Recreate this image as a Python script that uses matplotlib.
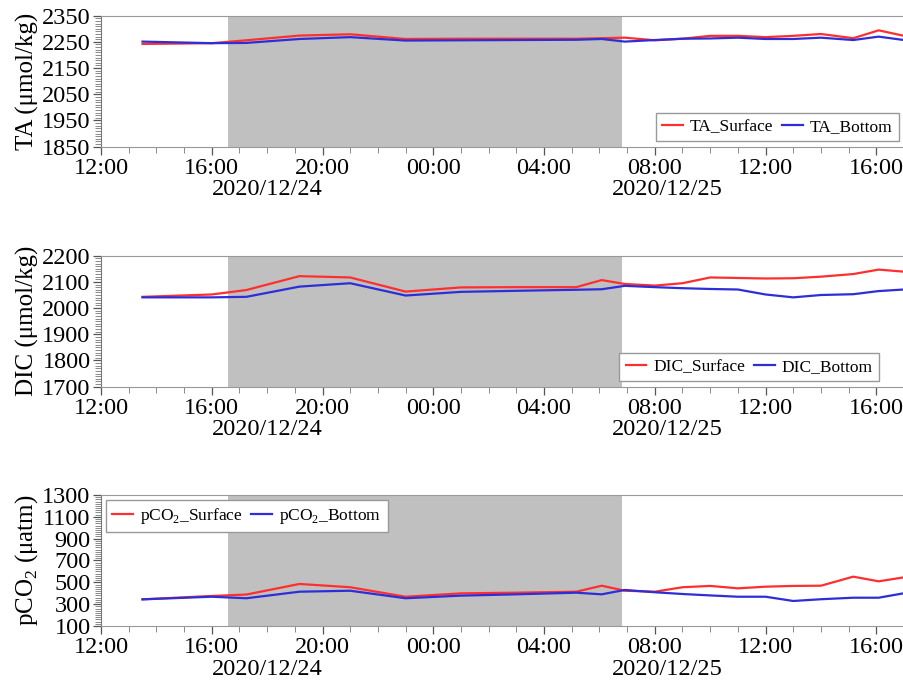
import numpy as np
import pandas as pd
import matplotlib
matplotlib.use("Agg")
import matplotlib.pyplot as plt
import matplotlib.dates as mdates
from matplotlib.ticker import FixedLocator

plt.rcParams['font.family'] = ['Liberation Serif', 'DejaVu Serif']
plt.rcParams['mathtext.fontset'] = 'custom'
plt.rcParams['mathtext.rm'] = 'Liberation Serif'

# sampling times
times = pd.to_datetime([
    "2020-12-24 13:30", "2020-12-24 16:00", "2020-12-24 17:15", "2020-12-24 19:10",
    "2020-12-24 21:00", "2020-12-24 23:00", "2020-12-25 01:00", "2020-12-25 03:00",
    "2020-12-25 05:10", "2020-12-25 06:05", "2020-12-25 06:55", "2020-12-25 08:00",
    "2020-12-25 09:00", "2020-12-25 10:00", "2020-12-25 11:00", "2020-12-25 12:00",
    "2020-12-25 13:00", "2020-12-25 14:00", "2020-12-25 15:10", "2020-12-25 16:05",
    "2020-12-25 17:00",
])

ta_surface = [2242, 2245, 2256, 2274, 2279, 2261, 2262, 2262, 2262, 2264, 2266,
              2256, 2262, 2273, 2273, 2268, 2273, 2280, 2264, 2294, 2273]
ta_bottom = [2251, 2245, 2246, 2261, 2268, 2255, 2256, 2257, 2258, 2261, 2251,
             2257, 2262, 2263, 2266, 2261, 2261, 2266, 2257, 2270, 2257]

dic_surface = [2043, 2052, 2069, 2122, 2117, 2063, 2079, 2080, 2080, 2107, 2092,
               2086, 2095, 2117, 2115, 2113, 2114, 2120, 2130, 2147, 2139]
dic_bottom = [2041, 2041, 2043, 2082, 2095, 2048, 2062, 2066, 2070, 2072, 2085,
              2080, 2076, 2073, 2071, 2052, 2041, 2050, 2053, 2065, 2071]

pco2_surface = [344, 375, 388, 485, 455, 368, 399, 405, 414, 469, 423,
                414, 455, 467, 445, 460, 467, 469, 552, 509, 546]
pco2_bottom = [344, 368, 354, 414, 423, 354, 378, 390, 405, 390, 430,
               409, 393, 380, 368, 368, 329, 345, 359, 359, 400]

ta_ticks = [1850, 1950, 2050, 2150, 2250, 2350]
dic_ticks = [1700, 1800, 1900, 2000, 2100, 2200]
pco2_ticks = [100, 300, 500, 700, 900, 1100, 1300]

night_start = pd.Timestamp("2020-12-24 16:35")
night_end = pd.Timestamp("2020-12-25 06:48")
x_start = pd.Timestamp("2020-12-24 12:00")
x_end = pd.Timestamp("2020-12-25 17:00")

date_labels = ["2020/12/24", "2020/12/25"]
date_pos = pd.to_datetime(["2020-12-24 18:00", "2020-12-25 08:28"])

panels = [
    dict(s=ta_surface, b=ta_bottom, ticks=ta_ticks, minor=10,
         ylabel="TA (μmol/kg)", names=("TA_Surface", "TA_Bottom"),
         loc="lower right", anchor=(1.0, 0.0)),
    dict(s=dic_surface, b=dic_bottom, ticks=dic_ticks, minor=10,
         ylabel="DIC (μmol/kg)", names=("DIC_Surface", "DIC_Bottom"),
         loc="lower right", anchor=(0.975, 0.0)),
    dict(s=pco2_surface, b=pco2_bottom, ticks=pco2_ticks, minor=20,
         ylabel="pCO$_2$ (μatm)", names=("pCO$_2$_Surface", "pCO$_2$_Bottom"),
         loc="upper left", anchor=(0.0, 1.0)),
]

fig = plt.figure(figsize=(9.04, 6.81), dpi=100)
rects = [[0.1117, 0.7846, 0.8883, 0.1924],
         [0.1117, 0.4322, 0.8883, 0.1923],
         [0.1117, 0.0808, 0.8883, 0.1923]]

red = "#ff2f2f"
blue = "#2e2ed8"

for rect, p in zip(rects, panels):
    ax = fig.add_axes(rect)
    ax.axvspan(night_start, night_end, color="#c0c0c0", lw=0, zorder=0)
    ax.plot(times, p["s"], color=red, lw=1.6, label=p["names"][0], zorder=3)
    ax.plot(times, p["b"], color=blue, lw=1.6, label=p["names"][1], zorder=3)

    lo, hi = p["ticks"][0], p["ticks"][-1]
    ax.set_xlim(x_start, x_end)
    ax.set_ylim(lo, hi)
    ax.yaxis.set_major_locator(FixedLocator(p["ticks"]))
    ax.yaxis.set_minor_locator(FixedLocator(np.arange(lo, hi + 1, p["minor"])))
    ax.xaxis.set_major_locator(mdates.HourLocator(byhour=[0, 4, 8, 12, 16, 20]))
    ax.xaxis.set_minor_locator(mdates.HourLocator())
    ax.xaxis.set_major_formatter(mdates.DateFormatter("%H:%M"))

    ax.tick_params(axis="both", which="major", labelsize=17.5, length=6,
                   width=0.9, color="#555555", direction="out")
    ax.tick_params(axis="y", which="major", pad=1.5)
    ax.tick_params(axis="x", which="major", pad=2)
    ax.tick_params(axis="both", which="minor", length=4, width=0.6,
                   color="#777777", direction="out")
    ax.set_ylabel(p["ylabel"], fontsize=18, labelpad=2)

    for side in ["top", "bottom"]:
        ax.spines[side].set_color("#999999")
    ax.spines["left"].set_color("#777777")
    ax.spines["right"].set_visible(False)

    for lab, pos in zip(date_labels, date_pos):
        ax.annotate(lab, xy=(mdates.date2num(pos), 0),
                    xycoords=("data", "axes fraction"),
                    xytext=(0, -23.5), textcoords="offset points",
                    ha="center", va="top", fontsize=17.5)

    leg = ax.legend(loc=p["loc"], bbox_to_anchor=p["anchor"], ncol=2,
                    fontsize=12.5, frameon=True, fancybox=False,
                    framealpha=1, edgecolor="#999999", handlelength=1.2,
                    handletextpad=0.4, columnspacing=0.5, borderpad=0.35,
                    borderaxespad=0.3)
    leg.get_frame().set_linewidth(1.0)

plt.savefig("out.png", dpi=100)
